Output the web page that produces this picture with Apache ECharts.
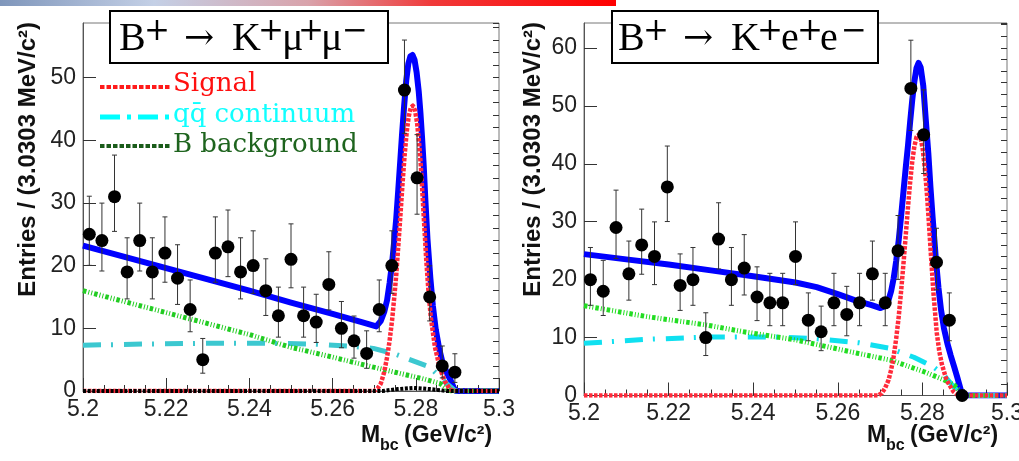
<!DOCTYPE html>
<html>
<head>
<meta charset="utf-8">
<script src="https://cdn.jsdelivr.net/npm/echarts@6/dist/echarts.min.js"></script>
<style>
  html, body { margin: 0; padding: 0; background: #fff; }
  #chart { width: 1019px; height: 461px; }
</style>
</head>
<body>
<div id="chart"></div>
<script>
// histogram binning: 33 bins over 5.2 - 5.3 GeV (3.0303 MeV each)
const massMin = 5.2;
const binWidth = 0.1 / 33;
const massTicks = [5.2, 5.22, 5.24, 5.26, 5.28, 5.3];

// B+ -> K+ mu+ mu-
const muCounts = [25, 24, 31, 19, 24, 19, 22, 18, 13, 5, 22, 23, 19, 20, 16, 12, 21, 12, 11, 17, 10, 8, 6, 13, 20, 48, 34, 15, 4, 3];
const muErrLow = [4.96, 4.86, 5.54, 4.31, 4.86, 4.31, 4.65, 4.19, 3.55, 2.16, 4.65, 4.76, 4.31, 4.43, 3.95, 3.41, 4.54, 3.41, 3.26, 4.07, 3.10, 2.76, 2.38, 3.55, 4.43, 6.90, 5.80, 3.82, 1.91, 1.63];
const muErrHigh = [6.07, 5.97, 6.63, 5.44, 5.97, 5.44, 5.77, 5.33, 4.71, 3.38, 5.77, 5.87, 5.44, 5.55, 5.09, 4.57, 5.66, 4.57, 4.43, 5.21, 4.28, 3.96, 3.60, 4.71, 5.55, 7.98, 6.89, 4.97, 3.18, 2.94];

const muTotal = [[5.200, 23.2], [5.210, 21.4], [5.220, 19.6], [5.230, 17.8], [5.240, 16.0], [5.250, 14.1], [5.260, 12.3], [5.267, 11.0], [5.2705, 10.3], [5.2716, 11.2], [5.2724, 12.6], [5.2731, 14.5], [5.2737, 17.2], [5.2743, 20.4], [5.2748, 23.8], [5.2753, 27.5], [5.2758, 32.2], [5.2763, 37.0], [5.2767, 41.0], [5.2772, 45.5], [5.2777, 49.5], [5.2782, 52.2], [5.2787, 53.4], [5.2792, 53.6], [5.2797, 52.8], [5.2802, 50.8], [5.2807, 47.8], [5.2811, 44.5], [5.2815, 40.5], [5.2819, 36.0], [5.2823, 30.5], [5.2828, 24.3], [5.2835, 18.0], [5.2841, 13.6], [5.2848, 9.8], [5.2856, 6.8], [5.2864, 4.6], [5.2874, 3.0], [5.2883, 1.8], [5.2892, 0.4], [5.2897, 0], [5.300, 0]];
const muSignal = [[5.200, 0], [5.2700, 0], [5.2708, 0.4], [5.2716, 1.2], [5.2724, 3.0], [5.2731, 5.4], [5.2737, 8.0], [5.2743, 11.3], [5.2748, 14.8], [5.2753, 18.5], [5.2758, 23.2], [5.2763, 28.0], [5.2768, 33.0], [5.2773, 37.5], [5.2778, 41.2], [5.2783, 43.8], [5.2788, 45.2], [5.2793, 45.5], [5.2798, 44.8], [5.2803, 42.8], [5.2808, 39.5], [5.2812, 36.0], [5.2816, 31.5], [5.2820, 26.8], [5.2825, 21.0], [5.2830, 16.3], [5.2836, 11.8], [5.2846, 7.0], [5.2858, 3.6], [5.2870, 1.5], [5.2882, 0.3], [5.2890, 0], [5.300, 0]];
const muContinuum = [[5.200, 7.3], [5.215, 7.5], [5.230, 7.6], [5.245, 7.6], [5.255, 7.5], [5.265, 7.1], [5.2698, 6.8], [5.275, 5.9], [5.2778, 5.2], [5.2810, 4.4], [5.2834, 3.8], [5.2854, 2.5], [5.2874, 1.2], [5.2890, 0.3], [5.2895, 0], [5.300, 0]];
const muBBackground = [[5.200, 16.0], [5.220, 12.5], [5.240, 9.0], [5.2498, 7.0], [5.260, 5.4], [5.2698, 3.8], [5.275, 3.0], [5.2814, 2.0], [5.2858, 1.2], [5.2874, 0.4], [5.2885, 0], [5.300, 0]];
const muPeaking = [[5.200, 0], [5.272, 0], [5.2755, 0.3], [5.2795, 0.5], [5.2835, 0.3], [5.2875, 0], [5.300, 0]];

// B+ -> K+ e+ e-
const eeCounts = [20, 18, 29, 21, 26, 24, 36, 19, 20, 10, 27, 20, 22, 17, 16, 16, 24, 13, 11, 16, 14, 16, 21, 16, 25, 53, 45, 23, 13, 0];
const eeErrLow = [4.43, 4.19, 5.36, 4.54, 5.07, 4.86, 5.97, 4.31, 4.43, 3.10, 5.17, 4.43, 4.65, 4.07, 3.95, 3.95, 4.86, 3.55, 3.26, 3.95, 3.69, 3.95, 4.54, 3.95, 4.96, 7.25, 6.68, 4.76, 3.55, 0];
const eeErrHigh = [5.55, 5.33, 6.45, 5.66, 6.17, 5.97, 7.06, 5.44, 5.55, 4.28, 6.27, 5.55, 5.77, 5.21, 5.09, 5.09, 5.97, 4.71, 4.43, 5.09, 4.84, 5.09, 5.66, 5.09, 6.07, 8.33, 7.76, 5.87, 4.71, 0];

const eeTotal = [[5.200, 24.4], [5.210, 23.5], [5.220, 22.6], [5.230, 21.6], [5.240, 20.6], [5.250, 19.5], [5.255, 18.7], [5.260, 17.5], [5.2646, 16.3], [5.2680, 15.6], [5.2701, 15.1], [5.2712, 15.4], [5.2720, 16.5], [5.2726, 18.0], [5.2732, 20.2], [5.2738, 23.2], [5.2744, 26.8], [5.2750, 31.2], [5.2756, 35.8], [5.2761, 39.6], [5.2766, 43.2], [5.2771, 47.2], [5.2776, 51.0], [5.2781, 54.2], [5.2786, 56.5], [5.2791, 57.4], [5.2796, 56.6], [5.2802, 53.5], [5.2808, 47.6], [5.2814, 41.8], [5.2819, 36.0], [5.2824, 30.9], [5.2832, 23.4], [5.2838, 18.6], [5.2844, 14.8], [5.2851, 11.6], [5.2859, 9.0], [5.2867, 6.9], [5.2875, 5.0], [5.2883, 3.0], [5.2891, 0.9], [5.2896, 0], [5.300, 0]];
const eeSignal = [[5.200, 0], [5.2695, 0], [5.2704, 0.4], [5.2712, 1.3], [5.2720, 2.7], [5.2726, 4.4], [5.2732, 6.7], [5.2738, 9.8], [5.2744, 13.6], [5.2750, 18.3], [5.2756, 23.4], [5.2761, 28.0], [5.2766, 32.6], [5.2771, 36.8], [5.2776, 40.4], [5.2781, 43.0], [5.2786, 44.6], [5.2791, 45.0], [5.2796, 44.4], [5.2801, 42.4], [5.2806, 39.0], [5.2811, 34.5], [5.2815, 30.2], [5.2819, 25.6], [5.2826, 17.8], [5.2834, 10.8], [5.2840, 7.6], [5.2846, 5.4], [5.2857, 2.7], [5.2873, 0.7], [5.2885, 0], [5.300, 0]];
const eeContinuum = [[5.200, 9.0], [5.215, 9.7], [5.230, 10.1], [5.245, 10.1], [5.255, 9.8], [5.265, 9.1], [5.272, 8.2], [5.278, 6.6], [5.2825, 5.0], [5.2850, 3.6], [5.2867, 2.1], [5.2883, 0.8], [5.2893, 0], [5.300, 0]];
const eeBBackground = [[5.200, 15.5], [5.215, 13.6], [5.2287, 12.2], [5.2378, 11.0], [5.250, 9.6], [5.2646, 7.3], [5.2725, 6.1], [5.2804, 4.1], [5.2851, 2.7], [5.2875, 1.8], [5.2891, 0.6], [5.2896, 0], [5.300, 0]];

const labelFont = 'Liberation Sans';
const serifFont = 'DejaVu Serif';

function binPoints(counts, lo, hi) {
  return counts.map((v, i) => [massMin + (i + 0.5) * binWidth, v, v - lo[i], v + hi[i]]);
}

function curve(data, g, color, width, dash, z) {
  return {
    type: 'line', xAxisIndex: g, yAxisIndex: g * 2, data: data,
    symbol: 'none', smooth: false, silent: true, z: z,
    lineStyle: { color: color, width: width, type: dash, cap: 'butt', join: 'round' }
  };
}

function errorBars(data, g) {
  return {
    type: 'custom', xAxisIndex: g, yAxisIndex: g * 2, data: data, silent: true, z: 6, clip: true,
    renderItem: (params, api) => {
      if (api.value(3) - api.value(2) <= 0) return null;
      const top = api.coord([api.value(0), api.value(3)]);
      const bot = api.coord([api.value(0), api.value(2)]);
      const st = { stroke: '#333', lineWidth: 1 };
      return {
        type: 'group', children: [
          { type: 'line', shape: { x1: top[0], y1: top[1], x2: bot[0], y2: bot[1] }, style: st },
          { type: 'line', shape: { x1: top[0] - 2.5, y1: top[1], x2: top[0] + 2.5, y2: top[1] }, style: st },
          { type: 'line', shape: { x1: bot[0] - 2.5, y1: bot[1], x2: bot[0] + 2.5, y2: bot[1] }, style: st }
        ]
      };
    }
  };
}

function dots(data, g) {
  return {
    type: 'scatter', xAxisIndex: g, yAxisIndex: g * 2, data: data.map(d => [d[0], d[1]]),
    symbol: 'circle', symbolSize: 13, itemStyle: { color: '#000', opacity: 1 }, silent: true, z: 7
  };
}

function xAxis(g) {
  return {
    type: 'value', gridIndex: g, min: 5.2, max: 5.3, interval: 0.02,
    axisLine: { show: true, lineStyle: { color: '#555', width: 1 } },
    axisTick: { show: true, inside: true, length: 13, lineStyle: { color: '#333' } },
    minorTick: { show: true, splitNumber: 4, length: 6, lineStyle: { color: '#333' } },
    splitLine: { show: false },
    axisLabel: {
      margin: 7, fontFamily: labelFont, fontSize: 23, color: '#222',
      showMinLabel: true, showMaxLabel: true,
      formatter: v => {
        const t = massTicks.find(m => Math.abs(m - v) < 1e-6);
        return t === undefined ? '' : String(t);
      }
    }
  };
}

function yAxes(g, max) {
  return [{
    type: 'value', gridIndex: g, min: 0, max: max, interval: 10,
    axisLine: { show: true, lineStyle: { color: '#555', width: 1 } },
    axisTick: { show: true, inside: true, length: 13, lineStyle: { color: '#333' } },
    splitLine: { show: false },
    axisLabel: { margin: 7, fontFamily: labelFont, fontSize: 23, color: '#222', showMaxLabel: false }
  }, {
    type: 'value', gridIndex: g, min: 0, max: max, interval: 2,
    axisLine: { show: false },
    axisTick: { show: true, inside: true, length: 6, lineStyle: { color: '#333' } },
    splitLine: { show: false },
    axisLabel: { show: false }
  }];
}

function text(x, y, str, opts) {
  return {
    type: 'text', x: x, y: y, z: 100,
    style: Object.assign({ text: str, fill: '#000', align: 'left', verticalAlign: 'middle' }, opts)
  };
}

function sampleLine(x1, x2, y, color, width, dash) {
  return {
    type: 'line', z: 100, shape: { x1: x1, y1: y, x2: x2, y2: y },
    style: { stroke: color, lineWidth: width, lineDash: dash, lineCap: 'butt' }
  };
}

// decay title: big letters with raised charge signs
function decayTitle(dx, lepton) {
  const big = { fontFamily: 'Liberation Serif', fontSize: 40 };
  const sup = { fontFamily: serifFont, fontSize: 31, align: 'center' };
  return [
    text(119 + dx, 39, 'B', big),
    text(157 + dx, 32, '+', sup),
    text(199 + dx, 40, '→', { fontFamily: serifFont, fontSize: 36, align: 'center' }),
    text(232 + dx, 39, 'K', big),
    text(271 + dx, 32, '+', sup),
    text(282 + dx, 39, lepton, big),
    text(311 + dx, 32, '+', sup),
    text(321 + dx, 39, lepton, big),
    text(355 + dx, 32, '−', sup)
  ];
}

function axisTitles(dx, yTitleX) {
  const bold = { fontFamily: labelFont, fontWeight: 'bold', fontSize: 23, fill: '#111' };
  const yTitle = text(yTitleX, 22, 'Entries / (3.0303 MeV/c²)', Object.assign({}, bold, { fontSize: 24, align: 'right' }));
  yTitle.rotation = Math.PI / 2;
  return [
    yTitle,
    text(361 + dx, 436, 'M', bold),
    text(380 + dx, 446, 'bc', Object.assign({}, bold, { fontSize: 16 })),
    text(404 + dx, 436, '(GeV/c²)', bold)
  ];
}

const muPts = binPoints(muCounts, muErrLow, muErrHigh);
const eePts = binPoints(eeCounts, eeErrLow, eeErrHigh);

const graphics = [
  {
    type: 'rect', z: 100, shape: { x: 0, y: 0, width: 616, height: 6 },
    style: {
      fill: {
        type: 'linear', x: 0, y: 0, x2: 1, y2: 0,
        colorStops: [
          { offset: 0, color: '#7f96bb' }, { offset: 0.25, color: '#c4d0e6' },
          { offset: 0.5, color: '#d9a3ab' }, { offset: 0.7, color: '#f03a3a' },
          { offset: 1, color: '#ff0000' }
        ]
      }
    }
  },
  // title boxes
  { type: 'rect', z: 99, shape: { x: 110, y: 11, width: 278, height: 52 }, style: { fill: '#fff', stroke: '#000', lineWidth: 2 } },
  { type: 'rect', z: 99, shape: { x: 612, y: 11, width: 266, height: 52 }, style: { fill: '#fff', stroke: '#000', lineWidth: 2 } },
  // legend
  sampleLine(100, 170, 87, '#ff1a1a', 4, [4.5, 2]),
  text(173, 84, 'Signal', { fontFamily: serifFont, fontSize: 26, fill: '#ff1010' }),
  sampleLine(100, 170, 117, '#00ffff', 5, [20, 7, 4, 7]),
  text(173, 115, 'qq̄ continuum', { fontFamily: serifFont, fontSize: 26, fill: '#10ffff' }),
  sampleLine(100, 170, 146, '#1a5c1a', 4, [4.5, 2]),
  text(173, 145, 'B background', { fontFamily: serifFont, fontSize: 26, fill: '#1e641e' })
].concat(decayTitle(0, 'μ'), decayTitle(499, 'e'), axisTitles(0, 28), axisTitles(506, 533));

const chart = echarts.init(document.getElementById('chart'), null, { renderer: 'canvas' });
chart.setOption({
  animation: false,
  backgroundColor: '#fff',
  grid: [
    { left: 83, top: 23, width: 416, height: 368, show: true, borderColor: '#777', borderWidth: 1, backgroundColor: 'transparent', outerBoundsMode: 'none' },
    { left: 584, top: 23, width: 423, height: 372.5, show: true, borderColor: '#777', borderWidth: 1, backgroundColor: 'transparent', outerBoundsMode: 'none' }
  ],
  xAxis: [xAxis(0), xAxis(1)],
  yAxis: yAxes(0, 58.7).concat(yAxes(1, 64.3)),
  series: [
    curve(muTotal, 0, '#0000ff', 6, 'solid', 2),
    curve(muContinuum, 0, '#3cc8d0', 5, [18, 10, 2, 11], 3),
    curve(muBBackground, 0, '#22cc22', 5, [3.5, 2, 1, 2, 1, 2], 3),
    curve(muSignal, 0, '#ff2a3a', 4.5, [3.5, 1.5], 4),
    curve(muPeaking, 0, '#000000', 4, [3, 1.6], 4),
    errorBars(muPts, 0),
    dots(muPts, 0),
    curve(eeTotal, 1, '#0000ff', 6, 'solid', 2),
    curve(eeContinuum, 1, '#10e0f0', 5, [18, 10, 2, 11], 3),
    curve(eeBBackground, 1, '#22dd22', 5, [3.5, 2, 1, 2, 1, 2], 3),
    curve(eeSignal, 1, '#ff2a3a', 4.5, [3.5, 1.5], 4),
    errorBars(eePts, 1),
    dots(eePts, 1)
  ],
  graphic: { elements: graphics }
});
</script>
</body>
</html>
